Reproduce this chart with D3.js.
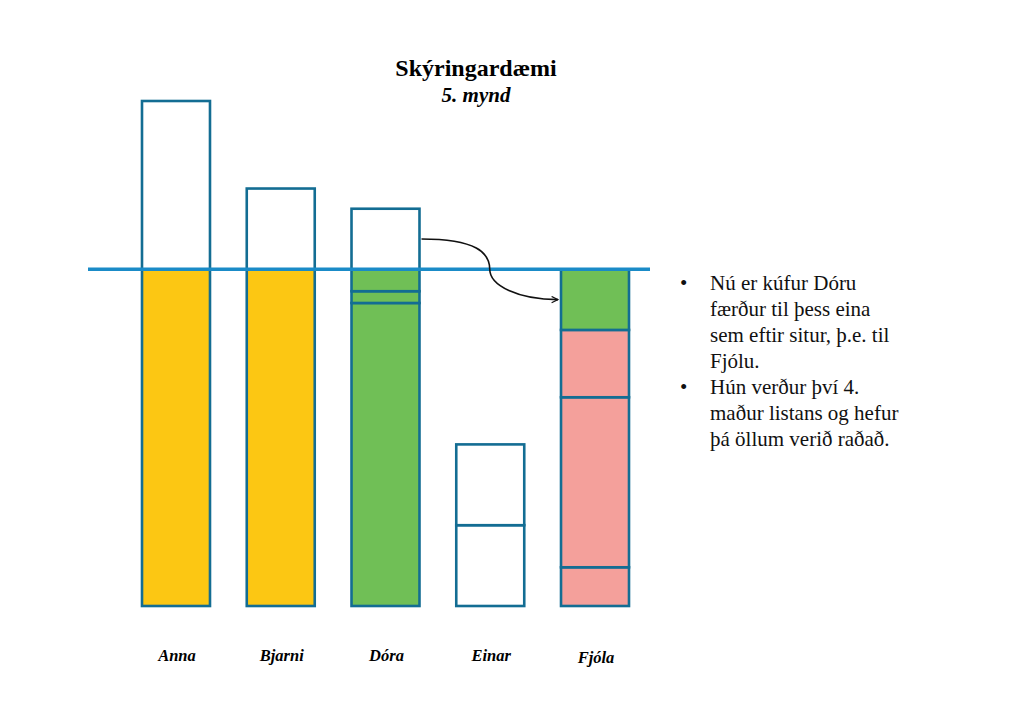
<!DOCTYPE html>
<html>
<head>
<meta charset="utf-8">
<script src="https://cdn.jsdelivr.net/npm/d3@7"></script>
<style>
  body { margin: 0; background: #fff; }
  svg { display: block; }
</style>
</head>
<body>
<div id="chart"></div>
<script>
/**
 * DATA
 * */
const names = ["Anna", "Bjarni", "Dóra", "Einar", "Fjóla"];
// stacked segments from bottom up (vote units, quota = 100)
const segments = [
  [100],
  [100],
  [90, 3.5, 6.5],
  [24, 24],
  [11.5, 50.5, 20, 18]
];
const segmentKinds = [
  ["elected"],
  ["elected"],
  ["transfer", "transfer", "transfer"],
  ["open", "open"],
  ["received", "received", "received", "transfer"]
];
// white "surplus" box above the quota
const surplus = [50, 24, 18, 0, 0];
const quota = 100;
const bullets = [
  ["Nú er kúfur Dóru", "færður til þess eina", "sem eftir situr, þ.e. til", "Fjólu."],
  ["Hún verður því 4.", "maður listans og hefur", "þá öllum verið raðað."]
];

/**
 * CONSTANTS
 * */
const width = 1009, height = 713;
const strokeCol = "#136d93";
const fills = { elected: "#fcc713", transfer: "#70bf56", received: "#f4a09b", open: "#ffffff" };
const serif = "'Liberation Serif', 'Times New Roman', serif";

const svg = d3.select("#chart").append("svg")
  .attr("width", width).attr("height", height);

const x = d3.scaleBand().domain(names).range([142, 629]).paddingInner(0.351);
const y = d3.scaleLinear().domain([0, 150]).range([606, 101]);

// title
svg.append("text")
  .attr("x", 476).attr("y", 76)
  .attr("text-anchor", "middle")
  .style("font-family", serif)
  .style("font-weight", "bold").style("font-size", "24px")
  .text("Skýringardæmi");
svg.append("text")
  .attr("x", 476).attr("y", 102)
  .attr("text-anchor", "middle")
  .style("font-family", serif)
  .style("font-style", "italic").style("font-weight", "bold").style("font-size", "21px")
  .text("5. mynd");

// build stacked rows
const rows = [];
names.forEach((n, i) => {
  let base = 0;
  segments[i].forEach((v, j) => {
    rows.push({ name: n, y0: base, y1: base + v, kind: segmentKinds[i][j] });
    base += v;
  });
  if (surplus[i] > 0) rows.push({ name: n, y0: base, y1: base + surplus[i], kind: "open" });
});

svg.append("g").selectAll("rect")
  .data(rows)
  .join("rect")
  .attr("x", d => x(d.name))
  .attr("width", x.bandwidth())
  .attr("y", d => y(d.y1))
  .attr("height", d => y(d.y0) - y(d.y1))
  .attr("fill", d => fills[d.kind])
  .attr("stroke", strokeCol)
  .attr("stroke-width", 2.6);

// quota line
svg.append("line")
  .attr("x1", 88).attr("x2", 650)
  .attr("y1", y(quota)).attr("y2", y(quota))
  .attr("stroke", "#1a8bc7").attr("stroke-width", 3.5);

// arrow from Dóra's surplus to Fjóla
svg.append("defs").append("marker")
  .attr("id", "head")
  .attr("viewBox", "0 0 10 10")
  .attr("refX", 9).attr("refY", 5)
  .attr("markerWidth", 8).attr("markerHeight", 8)
  .attr("markerUnits", "userSpaceOnUse")
  .attr("orient", "auto")
  .append("path")
  .attr("d", "M1,1 L9,5 L1,9")
  .attr("fill", "none").attr("stroke", "#111").attr("stroke-width", 1.5);

const iD = names.indexOf("Dóra"), iF = names.indexOf("Fjóla");
const dTop = d3.sum(segments[iD]);
const sx = x("Dóra") + x.bandwidth() + 2;
const sy = y(dTop + surplus[iD] / 2);
const fs = segments[iF];
const fBase = d3.sum(fs.slice(0, fs.length - 1));
const ex = x("Fjóla") - 3;
const ey = y(fBase + fs[fs.length - 1] / 2);
const mx = (sx + ex) / 2, my = y(quota);
const p = d3.path();
p.moveTo(sx, sy);
p.bezierCurveTo(sx + 55, sy, mx, sy + 14, mx, my);
p.bezierCurveTo(mx, ey - 14, ex - 40, ey, ex, ey);
svg.append("path")
  .attr("d", p.toString())
  .attr("fill", "none").attr("stroke", "#111").attr("stroke-width", 1.6)
  .attr("marker-end", "url(#head)");

// category labels
svg.append("g").selectAll("text")
  .data(names)
  .join("text")
  .attr("x", d => x(d) + x.bandwidth() / 2 + 1)
  .attr("y", (d, i) => i === 4 ? 663 : 661)
  .attr("text-anchor", "middle")
  .style("font-family", serif)
  .style("font-style", "italic").style("font-weight", "bold").style("font-size", "16.5px")
  .text(d => d);

// bullet text
const tg = svg.append("g")
  .style("font-family", serif)
  .style("font-size", "21px").attr("fill", "#111");
let line = 0;
bullets.forEach(b => {
  tg.append("text").attr("x", 680).attr("y", 290 + line * 26).text("•");
  b.forEach(t => {
    tg.append("text").attr("x", 710).attr("y", 290 + line * 26).text(t);
    line++;
  });
});
</script>
</body>
</html>
